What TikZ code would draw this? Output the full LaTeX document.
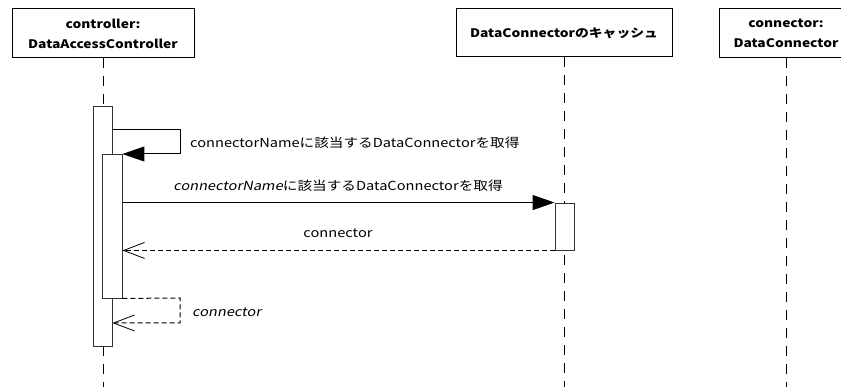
\documentclass[tikz,border=0pt]{standalone}
\usepackage{fontspec}
\setmainfont{Noto Sans CJK JP}[AutoFakeSlant=0.2,FakeStretch=1.17]
\usetikzlibrary{arrows.meta}
\tikzset{
  headbox/.style={draw=black, line width=1pt, fill=white, align=center, inner sep=0pt, font=\fontsize{11.8}{20}\selectfont\bfseries},
  lifeline/.style={draw=black, line width=0.9pt, dash pattern=on 10pt off 8pt},
  actbox/.style={draw=black!80, line width=0.9pt, fill=white, inner sep=0pt},
  callmsg/.style={draw=black, line width=1pt, -{Triangle[length=22pt,width=15pt]}},
  retmsg/.style={draw=black, line width=1pt, dash pattern=on 5pt off 3pt, -{Straight Barb[length=21pt,width=16pt,line width=0.8pt]}},
  msglabel/.style={font=\fontsize{12.5}{14}\selectfont, inner sep=0pt},
}
\begin{document}
\begin{tikzpicture}[x=1pt,y=-1pt]
\useasboundingbox (0,0) rectangle (841,387);
% heads
\node[headbox, minimum width=182pt, minimum height=49pt] (h1) at (103,33.5) {controller:\\DataAccessController};
\node[headbox, minimum width=216pt, minimum height=48pt] (h2) at (564,33) {DataConnectorのキャッシュ};
\node[headbox, minimum width=134pt, minimum height=49pt] (h3) at (786,33.5) {connector:\\DataConnector};
% lifeline ends
\coordinate (e1) at (103,387);
\coordinate (e2) at (564,387);
\coordinate (e3) at (786,387);
\draw[lifeline] (h1.south) -- (e1);
\draw[lifeline] (h2.south) -- (e2);
\draw[lifeline] (h3.south) -- (e3);
% activations
\node[actbox, minimum width=19pt, minimum height=240pt] (a1) at (102.5,226) {};
\node[actbox, minimum width=20pt, minimum height=144pt] (a2) at (112,226) {};
\node[actbox, minimum width=19pt, minimum height=47pt] (a3) at (564.5,226.5) {};
% self call
\coordinate (s1) at (180,130);
\coordinate (s2) at (180,154);
\draw[callmsg] (a1.east |- s1) -- (s1) -- (s2) -- (a2.east |- s2);
\node[msglabel, anchor=west] (l1) at (190,143) {connectorNameに該当するDataConnectorを取得};
% call to cache
\draw[callmsg] (a2.east |- a3.north) -- (a3.north west);
\node[msglabel] (l2) at (338,186) {\textit{connectorName}に該当するDataConnectorを取得};
% return from cache
\draw[retmsg] (a3.south west) -- (a2.east |- a3.south west);
\node[msglabel] (l3) at (338,233) {connector};
% self return
\coordinate (r1) at (180,298);
\coordinate (r2) at (180,323);
\draw[retmsg] (a2.south east) -- (r1) -- (r2) -- (a1.east |- r2);
\node[msglabel, anchor=west] (l4) at (192,312) {\textit{connector}};
\end{tikzpicture}
\end{document}
